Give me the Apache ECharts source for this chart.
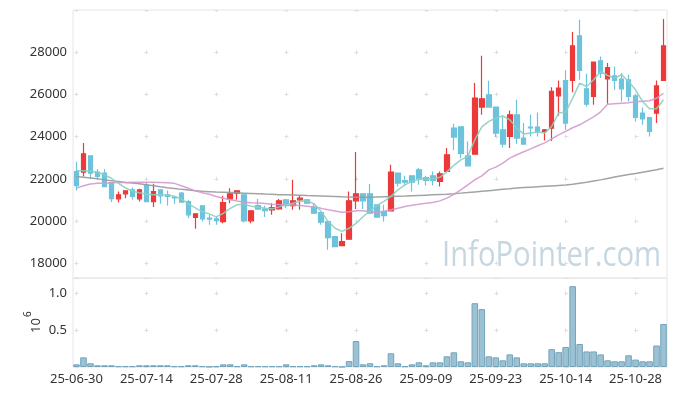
<!DOCTYPE html>
<html><head><meta charset="utf-8">
<script src="https://cdn.jsdelivr.net/npm/echarts@6/dist/echarts.min.js"></script>
<style>html,body{margin:0;padding:0;background:#fff}#c{width:677px;height:396px}</style>
</head><body><div id="c"></div>
<script>
const dates = ['25-06-30','25-07-01','25-07-02','25-07-03','25-07-04','25-07-07','25-07-08','25-07-09','25-07-10','25-07-11',
'25-07-14','25-07-15','25-07-16','25-07-17','25-07-18','25-07-21','25-07-22','25-07-23','25-07-24','25-07-25',
'25-07-28','25-07-29','25-07-30','25-07-31','25-08-01','25-08-04','25-08-05','25-08-06','25-08-07','25-08-08',
'25-08-11','25-08-12','25-08-13','25-08-14','25-08-18','25-08-19','25-08-20','25-08-21','25-08-22','25-08-25',
'25-08-26','25-08-27','25-08-28','25-08-29','25-09-01','25-09-02','25-09-03','25-09-04','25-09-05','25-09-08',
'25-09-09','25-09-10','25-09-11','25-09-12','25-09-15','25-09-16','25-09-17','25-09-18','25-09-19','25-09-22',
'25-09-23','25-09-24','25-09-25','25-09-26','25-09-29','25-09-30','25-10-01','25-10-02','25-10-10','25-10-13',
'25-10-14','25-10-15','25-10-16','25-10-17','25-10-20','25-10-21','25-10-22','25-10-23','25-10-24','25-10-27',
'25-10-28','25-10-29','25-10-30','25-10-31','25-11-03'];
// [open, close, low, high]
const ohlc = [
[22346,21682,21445,22806],[22318,23185,22109,23692],[23090,22270,21986,23090],[22318,22109,21953,22460],[22270,21630,21630,22460],
[21825,21066,20896,21825],[21052,21242,20877,21398],[21289,21431,21085,21431],[21479,21161,21005,21588],[21052,21479,20924,21526],
[21700,20924,20896,21825],[20924,21398,20659,21763],[21479,21194,20815,21479],[21242,21161,20737,21445],[21128,21099,20815,21194],
[21322,20896,20896,21370],[20924,20290,20137,21005],[20166,20341,19630,20341],[20720,20104,19976,20720],[20138,20090,19820,20294],
[20104,20024,19820,20213],[19976,20877,19900,21194],[21052,21289,20848,21559],[21322,21431,21005,21431],[21242,20009,19930,21242],
[20009,20483,19900,20483],[20734,20564,20564,21038],[20564,20497,20185,20720],[20530,20640,20294,20848],[20578,20957,20530,21038],
[21005,20734,20611,21038],[20734,20957,20530,21953],[21005,21085,20530,21208],[21005,20848,20848,21038],[20658,20374,20341,20848],
[20403,19948,19820,20403],[19976,19218,18635,19976],[19265,18791,18791,19265],[18838,19028,18838,19426],[19142,20957,19108,21398],
[20957,21289,20564,23265],[21289,20957,20564,21289],[21289,20374,20341,21750],[20768,20185,20185,20768],[20450,20260,19976,20768],
[20483,22318,20483,22664],[22270,21796,21635,22270],[21920,21841,21682,22142],[22142,21841,21398,22142],[22426,22000,21716,22507],
[22062,21920,21682,22142],[22142,21920,21682,22346],[21872,22237,21635,22346],[22346,23138,22346,23455],[24402,23976,23360,24607],
[24465,23200,22980,24465],[23090,22616,22616,23768],[23170,25825,23170,26536],[25400,25792,25033,27830],[25981,25400,25400,26645],
[25400,24166,23976,25400],[24323,23645,23484,24953],[24005,25034,23455,25237],[25034,23930,23660,25745],[23930,23645,23645,24640],
[24450,24418,24005,25034],[24450,24242,24005,25143],[24242,24323,23815,24355],[24400,26140,23790,26345],[25934,26300,24986,26660],
[26660,24640,24323,27150],[26660,28304,26100,28953],[28778,27133,26692,29536],[26266,25541,25425,26977],[25910,27531,25507,27531],
[27593,27010,26773,27800],[26740,27276,25555,27484],[26882,26660,26218,27323],[26724,26266,25666,27010],[26692,25910,25666,26930],
[25934,24906,24717,25980],[25114,24844,24560,25380],[24906,24250,24000,24906],[25114,26408,24640,26660],[26660,28304,26660,29569]];
// volume in millions
const volumes = [0.036,0.13,0.05,0.023,0.023,0.023,0.01,0.01,0.01,0.023,
0.023,0.023,0.023,0.023,0.01,0.01,0.023,0.023,0.01,0.004,
0.01,0.036,0.036,0.01,0.036,0.01,0.01,0.01,0.01,0.01,
0.036,0.01,0.01,0.01,0.023,0.036,0.023,0.01,0.003,0.08,
0.35,0.036,0.05,0.01,0.023,0.185,0.05,0.01,0.036,0.063,
0.023,0.063,0.063,0.144,0.198,0.077,0.063,0.86,0.78,0.144,
0.13,0.09,0.17,0.13,0.05,0.05,0.05,0.05,0.24,0.2,
0.27,1.09,0.31,0.21,0.21,0.17,0.09,0.077,0.077,0.158,
0.1,0.077,0.077,0.29,0.58];
const ma5 = [22380,22380,22355,22310,22190,22025,21790,21575,21410,21335,
21265,21240,21240,21220,21170,21050,20815,20625,20435,20340,
20195,20365,20600,20770,20790,20700,20650,20600,20580,20670,
20770,20840,20935,20960,20815,20460,19985,19655,19510,19655,
19890,20200,20485,20745,20935,21170,21480,21715,21880,21975,
22000,22000,22070,22330,22640,22900,23065,23850,24465,24725,
24870,24985,24800,24403,24119,24166,24214,24166,24479,25114,
25162,25825,26536,26375,26693,27086,26896,26773,26930,26612,
26219,25664,25318,25318,25745];
const ma20 = [21560,21670,21750,21785,21795,21810,21825,21825,21835,21835,
21835,21835,21825,21810,21785,21670,21550,21430,21335,21265,
21160,21075,21005,20945,20895,20870,20850,20825,20800,20780,
20770,20755,20735,20700,20660,20600,20530,20475,20420,20435,
20485,20485,20435,20400,20460,20530,20610,20690,20745,20800,
20840,20875,20955,21085,21265,21480,21715,21955,22140,22425,
22555,22745,22980,23140,23280,23420,23565,23705,23895,24085,
24250,24420,24560,24750,24940,25175,25530,25555,25580,25600,
25650,25675,25700,25815,26055];
const ma60 = [22110,22080,22040,22000,21950,21910,21870,21830,21800,21763,
21715,21670,21620,21575,21540,21500,21470,21440,21410,21390,
21370,21360,21350,21335,21320,21305,21290,21275,21265,21250,
21240,21230,21220,21205,21195,21185,21175,21165,21150,21140,
21130,21123,21130,21140,21150,21160,21170,21180,21195,21210,
21225,21240,21255,21270,21290,21322,21350,21380,21410,21440,
21470,21500,21530,21565,21585,21605,21625,21645,21665,21685,
21705,21740,21790,21840,21895,21950,22020,22085,22150,22200,
22250,22310,22370,22430,22500];

const font = '"Noto Sans", sans-serif';
const crossColor = '#dedede';
const chart = echarts.init(document.getElementById('c'), null, {renderer:'canvas'});
chart.setOption({
  animation: false,
  grid: [
    {left:73, right:10, top:10, height:268, show:true, borderColor:'#e6e6e6', borderWidth:1, backgroundColor:'transparent'},
    {left:73, right:10, top:278, height:89, show:true, borderColor:'#e6e6e6', borderWidth:1, backgroundColor:'transparent'}
  ],
  xAxis: [
    {type:'category', gridIndex:0, data:dates, boundaryGap:true,
     axisLine:{show:false}, axisTick:{show:false}, axisLabel:{show:false},
     splitLine:{show:true, interval:9, alignWithLabel:true, lineStyle:{color:crossColor, width:1, type:[4,38.205], dashOffset:2}}},
    {type:'category', gridIndex:1, data:dates, boundaryGap:true,
     axisLine:{show:false}, axisTick:{show:false},
     axisLabel:{interval:9, margin:6, fontSize:13, color:'#333', fontFamily:font},
     splitLine:{show:true, interval:9, alignWithLabel:true, lineStyle:{color:crossColor, width:1, type:[4,33.08], dashOffset:23.78}}}
  ],
  yAxis: [
    {type:'value', gridIndex:0, min:17300, max:30000, splitNumber:6, scale:true,
     axisLine:{show:false}, axisTick:{show:false},
     axisLabel:{showMinLabel:false, showMaxLabel:false, margin:6, fontSize:13, color:'#333', fontFamily:font, formatter:v=>String(v)},
     splitLine:{show:true, lineStyle:{color:crossColor, width:1, type:[4,66], dashOffset:68.5}}},
    {type:'value', gridIndex:1, min:0, max:1.2, interval:0.5,
     axisLine:{show:false}, axisTick:{show:false},
     axisLabel:{showMinLabel:false, showMaxLabel:false, margin:6, fontSize:13, color:'#333', fontFamily:font, formatter:v=>v.toFixed(1)},
     splitLine:{show:true, lineStyle:{color:crossColor, width:1, type:[4,66], dashOffset:68.5}}}
  ],
  series: [
    {type:'candlestick', xAxisIndex:0, yAxisIndex:0, data:ohlc, barWidth:5,
     itemStyle:{color:'#ec3a3a', color0:'#6cc3db', borderColor:'#ec3a3a', borderColor0:'#6cc3db', borderWidth:1.2}},
    {type:'line', xAxisIndex:0, yAxisIndex:0, data:ma60, symbol:'none', z:3, lineStyle:{color:'#999999', width:1.5, opacity:0.9}},
    {type:'line', xAxisIndex:0, yAxisIndex:0, data:ma20, symbol:'none', z:3, lineStyle:{color:'#d39ad0', width:1.5, opacity:0.9}},
    {type:'line', xAxisIndex:0, yAxisIndex:0, data:ma5, symbol:'none', z:3, lineStyle:{color:'#8ccfc1', width:1.5, opacity:0.9}},
    {type:'bar', xAxisIndex:1, yAxisIndex:1, data:volumes, barCategoryGap:'6%',
     itemStyle:{color:'#9bc1d3', borderColor:'#73a4bb', borderWidth:1}}
  ],
  graphic: [
    {type:'text', x:442, y:256, scaleX:0.86, z:-10, silent:true,
     style:{text:'InfoPointer.com', font:'34px "Open Sans", sans-serif', fill:'#c6d7e2', verticalAlign:'middle', align:'left'}},
    {type:'text', x:36, y:333, rotation:Math.PI/2,
     style:{text:'10', font:'13px "Noto Sans", sans-serif', fill:'#333', verticalAlign:'middle', align:'left'}},
    {type:'text', x:28, y:317, rotation:Math.PI/2,
     style:{text:'6', font:'10px "Noto Sans", sans-serif', fill:'#333', verticalAlign:'middle', align:'left'}}
  ]
});
</script></body></html>
